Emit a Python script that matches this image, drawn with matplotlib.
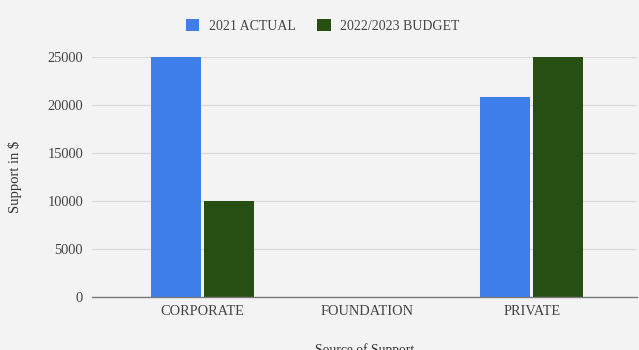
import matplotlib
matplotlib.use("Agg")
import matplotlib.pyplot as plt
import numpy as np

categories = ["CORPORATE", "FOUNDATION", "PRIVATE"]
actual_2021 = [25000, 0, 20800]
budget_2022_2023 = [10000, 0, 25000]
series_labels = ["2021 ACTUAL", "2022/2023 BUDGET"]
yticks = [0, 5000, 10000, 15000, 20000, 25000]

plt.rcParams['font.family'] = ['Liberation Serif', 'DejaVu Serif']
bg = "#f3f3f3"
fig = plt.figure(figsize=(6.39, 3.5), dpi=100, facecolor=bg)
ax = fig.add_axes([0.144, 0.151, 0.853, 0.686], facecolor=bg)

x = np.arange(len(categories))
w = 0.305
gap = 0.009
b1 = ax.bar(x - w/2 - gap, actual_2021, width=w, color="#3d7ee9", label=series_labels[0], zorder=3)
b2 = ax.bar(x + w/2 + gap, budget_2022_2023, width=w, color="#274e13", label=series_labels[1], zorder=3)

ax.set_xlim(-0.67, 2.64)
ax.set_ylim(0, 25000)
ax.set_yticks(yticks)
ax.set_yticklabels([str(v) for v in yticks])
ax.set_xticks(x)
ax.set_xticklabels(categories)
ax.grid(axis='y', color="#dadada", linewidth=0.9, zorder=0)
for s in ["top", "right", "left"]:
    ax.spines[s].set_visible(False)
ax.spines["bottom"].set_color("#7a7a7a")
ax.spines["bottom"].set_linewidth(1.0)
ax.spines["bottom"].set_zorder(4)
ax.tick_params(axis='both', length=0, colors="#444444", labelsize=10.4)
ax.tick_params(axis='y', pad=6.5)
ax.tick_params(axis='x', pad=6)

ax.set_ylabel("Support in $", fontsize=10.5, color="#333333", labelpad=18)
ax.set_xlabel("Source of Support", fontsize=9.8, color="#333333", labelpad=17.5)

leg = fig.legend(handles=[b1, b2], labels=series_labels, loc='center', bbox_to_anchor=(0.505, 0.927),
                 ncol=2, frameon=False, fontsize=10, handlelength=1.0, handleheight=1.0,
                 columnspacing=1.5, handletextpad=0.7, labelcolor="#444444")

fig.text(0.5, 1 + 3.5/350, "Sources of Support, Budget Comparison, 2021-2023", ha='center', va='baseline',
         fontsize=14, color="#444444")

fig.savefig("out.png", dpi=100, facecolor=bg)
